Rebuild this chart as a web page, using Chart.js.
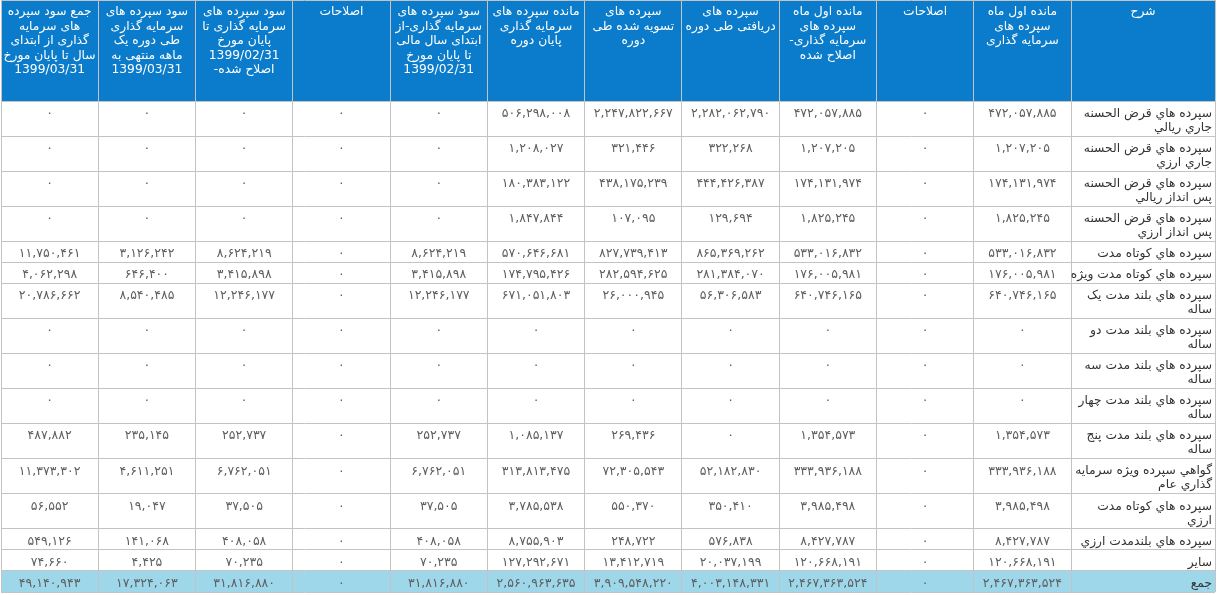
<!DOCTYPE html>
<html><head><meta charset="utf-8">
<script src="https://cdn.jsdelivr.net/npm/chart.js@4.4.1/dist/chart.umd.min.js"></script>
<style>html,body{margin:0;padding:0;background:#fff;overflow:hidden}#wrap{width:1217px;height:595px;position:relative}</style>
</head><body><div id="wrap"><canvas id="c"></canvas></div>
<script>
// ---- DATA ----
const headers = [
  ['شرح'],
  ['مانده اول ماه','سپرده های','سرمایه گذاری'],
  ['اصلاحات'],
  ['مانده اول ماه','سپرده های','سرمایه گذاری-','اصلاح شده'],
  ['سپرده های','دریافتی طی دوره'],
  ['سپرده های','تسویه شده طی','دوره'],
  ['مانده سپرده های','سرمایه گذاری','پایان دوره'],
  ['سود سپرده های','سرمایه گذاری-از','ابتدای سال مالی','تا پایان مورخ','1399/02/31'],
  ['اصلاحات'],
  ['سود سپرده های','سرمایه گذاری تا','پایان مورخ','1399/02/31','اصلاح شده-'],
  ['سود سپرده های','سرمایه گذاری','طی دوره یک','ماهه منتهی به','1399/03/31'],
  ['جمع سود سپرده','های سرمایه','گذاری از ابتدای','سال تا پایان مورخ','1399/03/31']
];
const rowLabels = [
  ['سپرده هاي قرض الحسنه','جاري ريالي'],
  ['سپرده هاي قرض الحسنه','جاري ارزي'],
  ['سپرده هاي قرض الحسنه','پس انداز ريالي'],
  ['سپرده هاي قرض الحسنه','پس انداز ارزي'],
  ['سپرده هاي كوتاه مدت'],
  ['سپرده هاي كوتاه مدت ويژه'],
  ['سپرده هاي بلند مدت يک','ساله'],
  ['سپرده هاي بلند مدت دو','ساله'],
  ['سپرده هاي بلند مدت سه','ساله'],
  ['سپرده هاي بلند مدت چهار','ساله'],
  ['سپرده هاي بلند مدت پنج','ساله'],
  ['گواهي سپرده ويژه سرمايه','گذاري عام'],
  ['سپرده هاي كوتاه مدت','ارزي'],
  ['سپرده هاي بلندمدت ارزي'],
  ['ساير'],
  ['جمع']
];
const opening       = [472057885,1207205,174131974,1825245,533016832,176005981,640746165,0,0,0,1354573,333936188,3985498,8427787,120668191,2467363524];
const adjustments   = [0,0,0,0,0,0,0,0,0,0,0,0,0,0,0,0];
const openingAdj    = [472057885,1207205,174131974,1825245,533016832,176005981,640746165,0,0,0,1354573,333936188,3985498,8427787,120668191,2467363524];
const received      = [2282062790,322268,444426387,129694,865369262,281384070,56306583,0,0,0,0,52182830,350410,576838,20037199,4003148331];
const settled       = [2247822667,321446,438175239,107095,827739413,282594625,26000945,0,0,0,269436,72305543,550370,248722,13412719,3909548220];
const closing       = [506298008,1208027,180383122,1847844,570646681,174795426,671051803,0,0,0,1085137,313813475,3785538,8755903,127292671,2560963635];
const profitPrev    = [0,0,0,0,8624219,3415898,12246177,0,0,0,252737,6762051,37505,408058,70235,31816880];
const profitAdjust  = [0,0,0,0,0,0,0,0,0,0,0,0,0,0,0,0];
const profitPrevAdj = [0,0,0,0,8624219,3415898,12246177,0,0,0,252737,6762051,37505,408058,70235,31816880];
const profitMonth   = [0,0,0,0,3126242,646400,8540485,0,0,0,235145,4611251,19047,141068,4425,17324063];
const profitYTD     = [0,0,0,0,11750461,4062298,20786662,0,0,0,487882,11373302,56552,549126,74660,49140943];

// ---- LAYOUT ----
const valueCols = [opening, adjustments, openingAdj, received, settled, closing, profitPrev, profitAdjust, profitPrevAdj, profitMonth, profitYTD];
const DESC_W = 1.48;           // description column width, in column units
const HEADER_H = 101, ROW_LINE = 14, ROW_PAD = 7, FIRST = 12.5, HEAD_FIRST = 12, HEAD_LINE = 14.5;
const FONT = '"DejaVu Sans", Tahoma, sans-serif';
const FA = '۰۱۲۳۴۵۶۷۸۹';
const fa = n => n.toLocaleString('en-US').replace(/\d/g, d => FA[d]);

const xEdges = [0, DESC_W];
valueCols.forEach((_, i) => xEdges.push(DESC_W + i + 1));
const TOTAL_W = xEdges[xEdges.length - 1];
const yEdges = [0, HEADER_H];
rowLabels.forEach(l => yEdges.push(yEdges[yEdges.length - 1] + ROW_PAD + ROW_LINE * l.length));
const TOTAL_H = yEdges[yEdges.length - 1];
const rowTop = i => yEdges[i + 1];
const colCenter = c => (xEdges[c] + xEdges[c + 1]) / 2;

const datasets = [];
datasets.push({ label: 'desc', lines: rowLabels, align: 'right', color: '#333333',
  data: rowLabels.map((l, i) => ({ x: 0, y: rowTop(i) + FIRST })) });
valueCols.forEach((arr, c) => datasets.push({ label: 'c' + c, lines: arr.map(v => [fa(v)]), align: 'center', color: '#5e5e5e',
  data: arr.map((v, i) => ({ x: colCenter(c + 1), y: rowTop(i) + FIRST })) }));
datasets.forEach(d => { d.pointRadius = 0; d.pointHoverRadius = 0; d.showLine = false; });

const tablePlugin = {
  id: 'table',
  beforeDraw(chart) {
    const { ctx } = chart, xs = chart.scales.x, ys = chart.scales.y;
    const L = xs.getPixelForValue(TOTAL_W), R = xs.getPixelForValue(0);
    ctx.save();
    ctx.fillStyle = '#0b7ccb';
    ctx.fillRect(L, ys.getPixelForValue(0), R - L, ys.getPixelForValue(HEADER_H) - ys.getPixelForValue(0));
    const n = rowLabels.length;
    ctx.fillStyle = '#9ed7ea';
    ctx.fillRect(L, ys.getPixelForValue(yEdges[n]), R - L, ys.getPixelForValue(yEdges[n + 1]) - ys.getPixelForValue(yEdges[n]));
    ctx.restore();
  },
  afterDatasetsDraw(chart) {
    const { ctx } = chart, xs = chart.scales.x, ys = chart.scales.y;
    ctx.save();
    ctx.direction = 'rtl';
    ctx.textBaseline = 'middle';
    // header
    ctx.font = '12.3px ' + FONT;
    ctx.fillStyle = '#ffffff';
    ctx.textAlign = 'center';
    headers.forEach((lines, c) => {
      const x = xs.getPixelForValue(colCenter(c));
      lines.forEach((t, k) => ctx.fillText(t, x, ys.getPixelForValue(HEAD_FIRST + k * HEAD_LINE)));
    });
    // body
    chart.data.datasets.forEach((ds, d) => {
      const meta = chart.getDatasetMeta(d);
      ctx.fillStyle = ds.color;
      ctx.textAlign = ds.align;
      ctx.font = (d === 0 ? '12.3px ' : '12.5px ') + FONT;
      meta.data.forEach((el, i) => {
        const x = ds.align === 'right' ? el.x - 3 : el.x;
        ds.lines[i].forEach((t, k) => ctx.fillText(t, x, el.y + k * ROW_LINE));
      });
    });
    ctx.restore();
  }
};

const gridColor = '#c3c3c3';
new Chart(document.getElementById('c'), {
  type: 'scatter',
  data: { datasets },
  options: {
    responsive: true, maintainAspectRatio: false, animation: false,
    events: [],
    layout: { padding: { left: 1, right: 2, top: 0, bottom: 595 - TOTAL_H - 1 } },
    plugins: { legend: { display: false }, tooltip: { enabled: false } },
    scales: {
      x: { type: 'linear', min: 0, max: TOTAL_W, reverse: true,
        afterBuildTicks: s => { s.ticks = xEdges.map(v => ({ value: v })); },
        ticks: { display: false }, border: { display: false },
        grid: { color: gridColor, lineWidth: 1, drawTicks: false } },
      y: { type: 'linear', min: 0, max: TOTAL_H, reverse: true,
        afterBuildTicks: s => { s.ticks = yEdges.map(v => ({ value: v })); },
        ticks: { display: false }, border: { display: false },
        grid: { color: gridColor, lineWidth: 1, drawTicks: false } }
    }
  },
  plugins: [tablePlugin]
});
</script></body></html>
